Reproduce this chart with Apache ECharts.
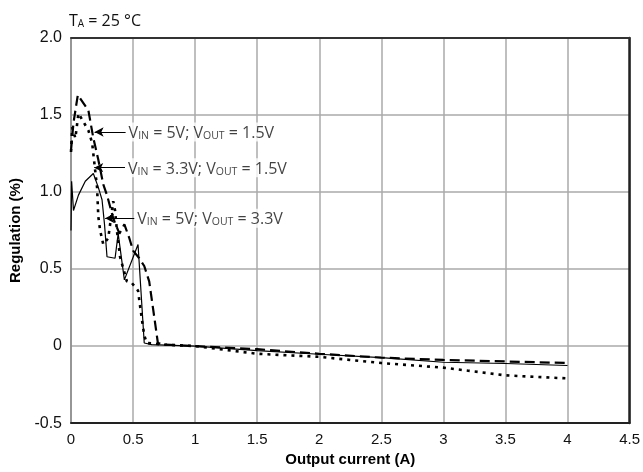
<!DOCTYPE html>
<html>
<head>
<meta charset="utf-8">
<script src="https://cdn.jsdelivr.net/npm/echarts@6/dist/echarts.min.js"></script>
<style>
html,body{margin:0;padding:0;background:#fff;}
#chart{width:643px;height:472px;}
</style>
</head>
<body>
<div id="chart"></div>
<script>
// Output current (A) and regulation (%) for each curve
var iVin5Vout15 = [0, 0.02, 0.055, 0.14, 0.18, 0.22, 0.26, 0.29, 0.34, 0.39, 0.43, 0.47, 0.5, 0.55, 0.59, 0.63, 0.66, 0.7, 0.75, 1, 1.5, 2, 2.5, 3, 3.5, 4];
var regVin5Vout15 = [1.27, 1.45, 1.63, 1.53, 1.35, 1.21, 1.05, 0.98, 0.83, 0.73, 0.79, 0.7, 0.62, 0.57, 0.52, 0.42, 0.25, 0.02, 0.01, 0, -0.02, -0.05, -0.075, -0.09, -0.1, -0.11];

var iVin33Vout15 = [0, 0.005, 0.02, 0.06, 0.115, 0.18, 0.22, 0.25, 0.27, 0.29, 0.355, 0.38, 0.43, 0.54, 0.59, 0.65, 1, 1.5, 2, 2.5, 3, 3.5, 4];
var regVin33Vout15 = [0.75, 1.07, 0.88, 0.98, 1.07, 1.12, 1.03, 0.95, 0.79, 0.58, 0.57, 0.73, 0.43, 0.66, 0.02, 0.01, 0, -0.03, -0.053, -0.075, -0.105, -0.113, -0.126];

var iVin5Vout33 = [0, 0.01, 0.035, 0.06, 0.09, 0.14, 0.17, 0.21, 0.22, 0.235, 0.26, 0.3, 0.34, 0.355, 0.37, 0.395, 0.45, 0.49, 0.54, 0.57, 0.59, 0.61, 0.75, 1, 1.5, 2, 2.5, 3, 3.2, 3.5, 3.75, 4];
var regVin5Vout33 = [1.26, 1.42, 1.35, 1.51, 1.47, 1.4, 1.32, 1.03, 0.84, 0.75, 0.66, 0.7, 0.94, 0.88, 0.75, 0.58, 0.42, 0.41, 0.36, 0.18, 0.07, 0.02, 0.01, 0, -0.05, -0.07, -0.11, -0.14, -0.16, -0.19, -0.2, -0.21];

var xTicks = [0, 4.5, 0.5];   // min, max, step
var yTicks = [-0.5, 2.0, 0.5];

// annotation arrows: tail and head points in data units
var labelNames = [
  '{v|V}{s|IN}{v| = 5V; V}{s|OUT}{v| = 1.5V}',
  '{v|V}{s|IN}{v| = 3.3V; V}{s|OUT}{v| = 1.5V}',
  '{v|V}{s|IN}{v| = 5V; V}{s|OUT}{v| = 3.3V}'
];
var arrowTail = [[0.44, 1.39], [0.435, 1.158], [0.51, 0.83]];
var arrowHead = [[0.19, 1.39], [0.187, 1.158], [0.275, 0.83]];

function pairs(xs, ys) { return xs.map(function (x, i) { return [x, ys[i]]; }); }

var chart = echarts.init(document.getElementById('chart'));
var richStyle = {
  v: { fontFamily: 'Open Sans', fontWeight: 'normal', fontSize: 16, color: '#111', lineHeight: 19, verticalAlign: 'bottom' },
  s: { fontFamily: 'Open Sans', fontWeight: 'normal', fontSize: 10.5, color: '#111', lineHeight: 12, verticalAlign: 'bottom' }
};
var titleRich = {
  v: { fontFamily: 'Open Sans', fontWeight: 'normal', fontSize: 16, color: '#111', lineHeight: 20, verticalAlign: 'bottom' },
  s: { fontFamily: 'Open Sans', fontWeight: 'normal', fontSize: 10, color: '#111', lineHeight: 12, verticalAlign: 'bottom' }
};

var option = {
  animation: false,
  backgroundColor: '#fff',
  title: {
    text: '{v|T}{s|A}{v| = 25 °C}',
    left: 64, top: 4,
    textStyle: { fontWeight: 'normal', rich: titleRich }
  },
  grid: { left: 65, right: 13, top: 38, bottom: 44, containLabel: false },
  xAxis: [{
    type: 'value', min: xTicks[0], max: xTicks[1], interval: xTicks[2],
    name: 'Output current (A)', nameLocation: 'middle', nameGap: 26,
    nameTextStyle: { fontFamily: 'Liberation Sans', fontWeight: 'bold', fontSize: 15, color: '#000' },
    axisLine: { onZero: false, lineStyle: { color: '#222', width: 2 } },
    axisTick: { show: false },
    axisLabel: { fontFamily: 'Liberation Sans', fontSize: 15, color: '#111', margin: 9 },
    splitLine: { show: true, lineStyle: { color: '#aaa', width: 1.5 } }
  }, {
    type: 'value', position: 'top', min: xTicks[0], max: xTicks[1], interval: xTicks[2],
    axisLine: { onZero: false, lineStyle: { color: '#333', width: 2 } },
    axisTick: { show: false }, axisLabel: { show: false }, splitLine: { show: false }
  }],
  yAxis: [{
    type: 'value', min: yTicks[0], max: yTicks[1], interval: yTicks[2],
    name: 'Regulation (%)', nameLocation: 'middle', nameGap: 48,
    nameTextStyle: { fontFamily: 'Liberation Sans', fontWeight: 'bold', fontSize: 15, color: '#000' },
    axisLine: { onZero: false, lineStyle: { color: '#888', width: 1.5 } },
    axisTick: { show: false },
    axisLabel: {
      fontFamily: 'Liberation Sans', fontSize: 16, color: '#111', margin: 9,
      formatter: function (v) { return v === 0 ? '0' : v.toFixed(1); }
    },
    splitLine: { show: true, lineStyle: { color: '#aaa', width: 1.5 } }
  }, {
    type: 'value', position: 'right', min: yTicks[0], max: yTicks[1], interval: yTicks[2],
    axisLine: { onZero: false, lineStyle: { color: '#222', width: 2.5 } },
    axisTick: { show: false }, axisLabel: { show: false }, splitLine: { show: false }
  }],
  series: [{
    name: 'VIN = 5V; VOUT = 1.5V', type: 'line', data: pairs(iVin5Vout15, regVin5Vout15),
    showSymbol: false, symbol: 'none',
    lineStyle: { color: '#000', width: 2.2, type: [10, 5] }, z: 3
  }, {
    name: 'VIN = 3.3V; VOUT = 1.5V', type: 'line', data: pairs(iVin33Vout15, regVin33Vout15),
    showSymbol: false, symbol: 'none',
    lineStyle: { color: '#000', width: 1.2, type: 'solid' }, z: 3
  }, {
    name: 'VIN = 5V; VOUT = 3.3V', type: 'line', data: pairs(iVin5Vout33, regVin5Vout33),
    showSymbol: false, symbol: 'none',
    lineStyle: { color: '#000', width: 2.6, type: [3, 5] }, z: 3
  }, {
    name: 'arrows', type: 'line', data: [], silent: true,
    markLine: {
      silent: true, animation: false,
      symbolSize: [7, 9],
      label: { show: false },
      lineStyle: { color: '#000', width: 1, type: 'solid' },
      data: arrowTail.map(function (t, i) {
        return [{ coord: t, symbol: 'none' }, { coord: arrowHead[i], symbol: 'arrow' }];
      })
    }, z: 5
  }, {
    name: 'labels', type: 'scatter', symbolSize: 0, silent: true, z: 6,
    data: arrowTail.map(function (t, i) { return { value: t, name: labelNames[i] }; }),
    label: {
      show: true, position: 'right', distance: 1,
      formatter: function (p) { return p.name; },
      backgroundColor: '#fff', padding: [0, 2, 0, 2],
      rich: richStyle
    }
  }]
};
chart.setOption(option);
</script>
</body>
</html>
